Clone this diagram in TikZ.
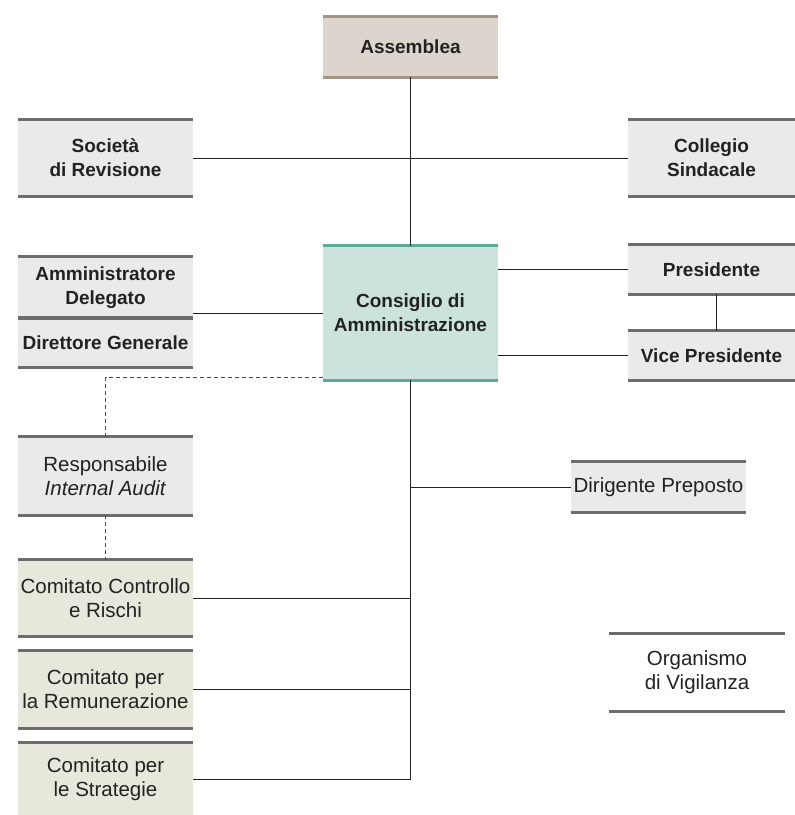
\documentclass[tikz,border=0pt]{standalone}
\usepackage{fontspec}
\setmainfont{Liberation Sans}
\usetikzlibrary{positioning}

\definecolor{greyfill}{HTML}{EAEAEC}
\definecolor{greyrule}{HTML}{6D6D6D}
\definecolor{brownfill}{HTML}{DCD5CE}
\definecolor{brownrule}{HTML}{A39382}
\definecolor{tealfill}{HTML}{CCE3DD}
\definecolor{tealrule}{HTML}{5DAA99}
\definecolor{olivefill}{HTML}{E7E8DB}
\definecolor{inkcol}{HTML}{222222}

\begin{document}
\begin{tikzpicture}[x=1pt, y=-1pt,
    box/.style={minimum width=175pt, inner sep=0pt, align=center, text=inkcol,
      font=\fontsize{20.5}{24}\selectfont},
    boldbox/.style={box, font=\fontsize{19}{24}\selectfont\bfseries},
    link/.style={draw=inkcol, line width=0.8pt},
    dotlink/.style={draw=inkcol!80, line width=0.6pt, dash pattern=on 4pt off 3pt},
    rule/.style={line width=3pt, draw=#1}]
  \useasboundingbox (0,0) rectangle (795,815);
  % top of the chart
  \node [boldbox, fill=brownfill, minimum height=60pt] (asm) at (410.5,47) {Assemblea};
  \node [boldbox, fill=greyfill, minimum height=76pt] (soc) at (105.5,158) {Società\\di Revisione};
  \node [boldbox, fill=greyfill, minimum height=76pt, minimum width=167pt] (col) at (711.5,158) {Collegio\\Sindacale};
  % board and executives
  \node [boldbox, fill=tealfill, minimum height=134pt] (cda) at (410.5,313) {Consiglio di\\Amministrazione};
  \node [boldbox, fill=greyfill, minimum height=61pt] (amm) at (105.5,287.5) {Amministratore\\Delegato};
  \node [boldbox, fill=greyfill, minimum height=49pt] (dir) at (105.5,342.5) {Direttore Generale};
  \node [boldbox, fill=greyfill, minimum height=49pt, minimum width=167pt] (pre) at (711.5,269.5) {Presidente};
  \node [boldbox, fill=greyfill, minimum height=49pt, minimum width=167pt] (vic) at (711.5,355.5) {Vice Presidente};
  % lower part
  \node [box, fill=greyfill, minimum height=78pt] (aud) at (105.5,476) {Responsabile\\\textit{Internal Audit}};
  \node [box, fill=greyfill, minimum height=50pt] (dp) at (658.5,487) {Dirigente Preposto};
  \node [box, fill=olivefill, minimum height=76pt] (ccr) at (105.5,598) {Comitato Controllo\\e Rischi};
  \node [box, fill=olivefill, minimum height=77pt] (rem) at (105.5,689.5) {Comitato per\\la Remunerazione};
  \node [box, fill=olivefill, minimum height=72pt] (str) at (105.5,779) {Comitato per\\le Strategie};
  \node [box, minimum height=77pt, minimum width=176pt] (odv) at (697,672.5) {Organismo\\di Vigilanza};

  % rules on top and bottom of the boxes
  \foreach \n in {soc, col, amm, dir, pre, vic, aud, dp, ccr, rem, odv}
    \draw [rule=greyrule] (\n.north west) -- (\n.north east) (\n.south west) -- (\n.south east);
  \draw [rule=greyrule] (str.north west) -- (str.north east);
  \draw [rule=brownrule] (asm.north west) -- (asm.north east) (asm.south west) -- (asm.south east);
  \draw [rule=tealrule] (cda.north west) -- (cda.north east) (cda.south west) -- (cda.south east);

  % connectors
  \draw [link] (asm.south) -- (cda.north);
  \draw [link] (soc.east) -- (col.west);
  \draw [link] (cda.west) -- (cda.west -| amm.east);
  \draw [link] (pre.west) -- (pre.west -| cda.east);
  \draw [link] (vic.west) -- (vic.west -| cda.east);
  \draw [link] ([xshift=4.5pt]pre.south) -- ([xshift=4.5pt]vic.north);
  \draw [link] (cda.south) -- (cda.south |- str.east);
  \draw [link] (dp.west) -- (dp.west -| cda.south);
  \foreach \n in {ccr, rem, str}
    \draw [link] (\n.east) -- (\n.east -| cda.south);
  \draw [dotlink] ([yshift=3pt]cda.south west) -| (aud.north);
  \draw [dotlink] (aud.south) -- (ccr.north);
\end{tikzpicture}
\end{document}
